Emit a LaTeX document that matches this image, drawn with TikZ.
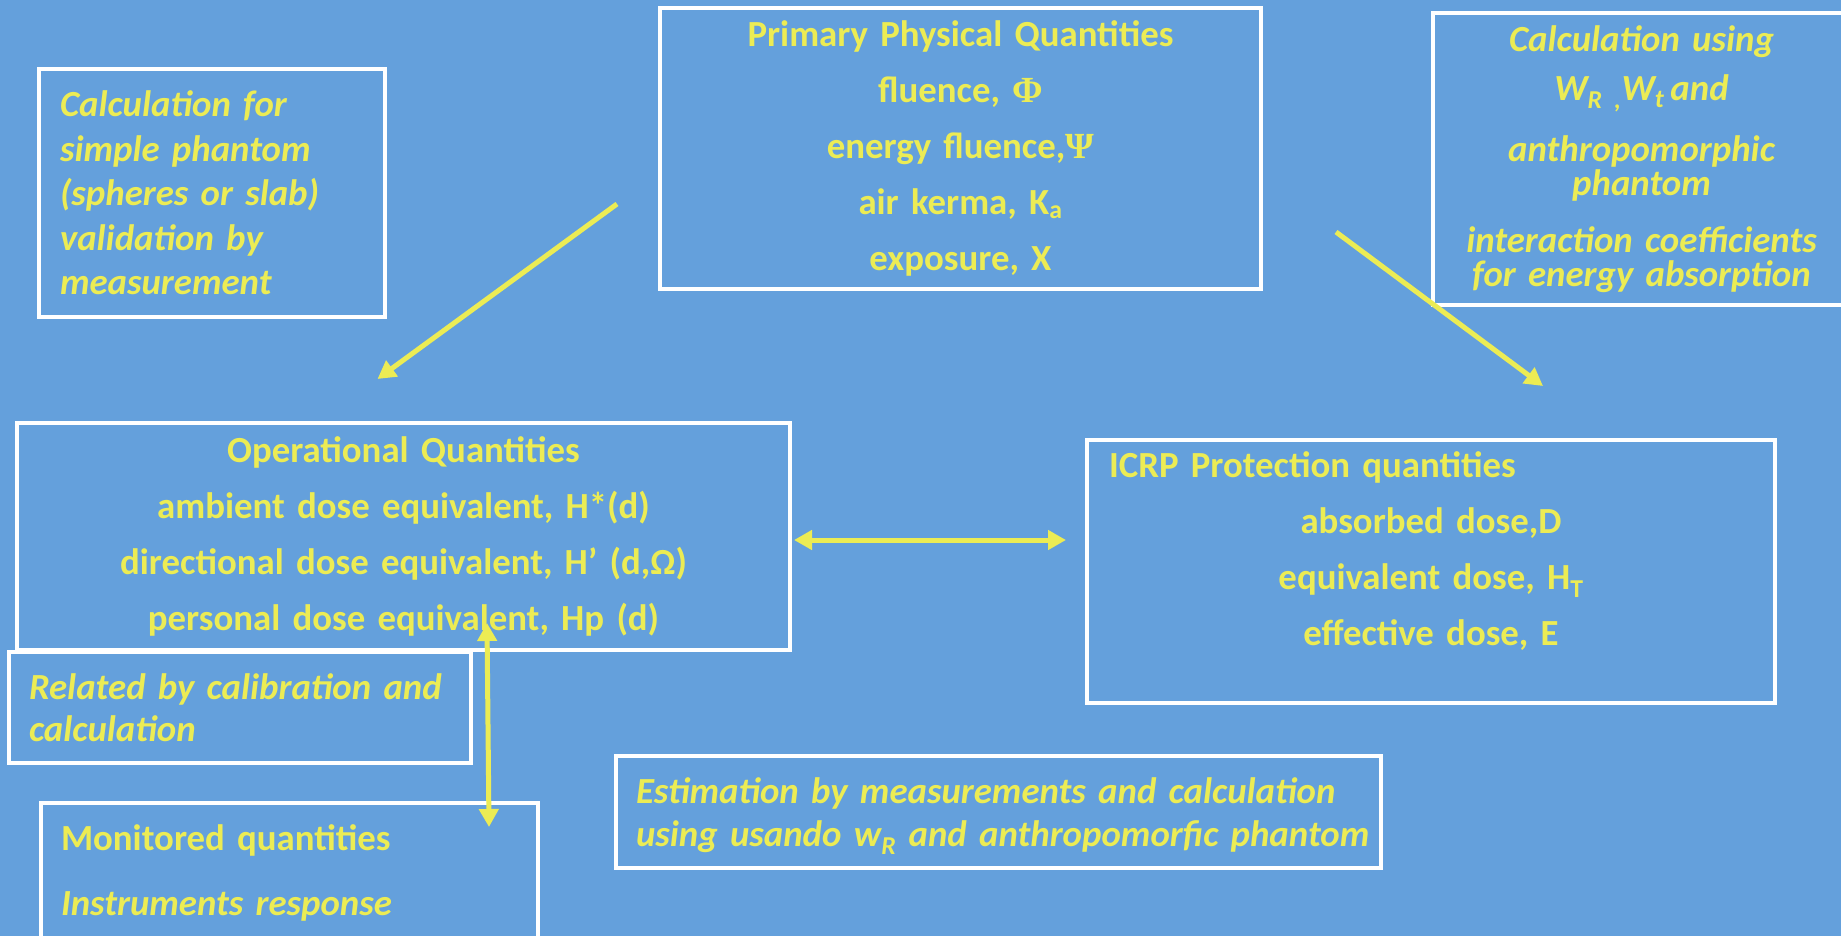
\documentclass[tikz,border=0pt]{standalone}
\usepackage{fontspec}
\setmainfont{Carlito}
\newfontfamily\greekserif{Liberation Serif}
\usetikzlibrary{arrows.meta}
\definecolor{bgblue}{RGB}{100,160,220}
\definecolor{qyellow}{RGB}{236,236,84}
\newcommand{\qfont}[1]{\fontsize{36.8}{#1}\selectfont}

\begin{document}
\begin{tikzpicture}[x=1pt,y=-1pt,
	box/.style={draw=white,line width=3.5pt,text=qyellow,anchor=north west,inner sep=0pt,outer sep=0pt},
	link/.style={qyellow,line width=5pt},
	>={Triangle[length=18pt,width=19pt]}]
		\clip (0,0) rectangle (1841,936);
		\fill[bgblue] (0,0) rectangle (1841,936);
		
		\node[box,minimum width=346pt,minimum height=248pt,text width=304pt,align=left,font=\bfseries\itshape\qfont{44.5}] (simple) at (39,69) {Calculation for\\simple phantom\\(spheres or slab)\\validation by\\measurement};
		\node[box,minimum width=601pt,minimum height=281pt,text width=560pt,align=center,font=\bfseries\qfont{56}] (primary) at (660,8) {Primary Physical Quantities\\fluence, {\greekserif Φ}\\energy fluence,{\greekserif Ψ}\\air kerma, K\textsubscript{a}\\exposure, X};
		\node[box,minimum width=417pt,minimum height=292pt,text width=400pt,align=center,font=\bfseries\itshape\qfont{34}] (using) at (1433,13) {Calculation using\\[15pt]W\textsubscript{R ,}W\textsubscript{t}\,and\\[23pt]anthropomorphic\\phantom\\[23pt]interaction coefficients\\for energy absorption};
		
		\node[box,minimum width=773pt,minimum height=227pt,text width=740pt,align=center,font=\bfseries\qfont{56}] (oper) at (17,423) {Operational Quantities\\ambient dose equivalent, H*(d)\\directional dose equivalent, H’ (d,Ω)\\personal dose equivalent, Hp (d)};
		\node[box,minimum width=688pt,text width=644pt,align=center,inner ysep=11pt,text height=26pt,text depth=215pt,font=\bfseries\qfont{56}] (icrp) at (1087,440) {\makebox[644pt][l]{ICRP Protection quantities}\\absorbed dose,D\\equivalent dose, H\textsubscript{T}\\effective dose, E};
		
		\node[box,minimum width=462pt,minimum height=111pt,text width=422pt,align=left,font=\bfseries\itshape\qfont{42}] (related) at (9,652) {Related by calibration and\\calculation};
		\node[box,minimum width=497pt,text width=457pt,align=left,inner ysep=21pt,text height=26pt,text depth=90pt,font=\bfseries\qfont{65}] (monitor) at (41,803) {Monitored quantities\\\textit{Instruments response}};
		\node[box,minimum width=765pt,text width=725pt,align=left,inner ysep=21pt,text height=26pt,text depth=44pt,font=\bfseries\itshape\qfont{43}] (estim) at (616,756) {\mbox{Estimation by measurements and calculation}\\\mbox{using usando w\textsubscript{R} and anthropomorfic phantom}};
		
		\draw[link,->] ([xshift=-43pt,yshift=85pt]primary.south west) -- ([xshift=-26pt,yshift=44pt]oper.north);
		\draw[link,->] ([xshift=75pt,yshift=57pt]primary.south east) -- ([xshift=112pt,yshift=54pt]icrp.north);
		\draw[link,<->] ([xshift=4pt,yshift=-3.5pt]oper.east) -- ([xshift=-21pt,yshift=31.5pt]icrp.west);
		\draw[link,<->] ([xshift=83.5pt,yshift=27pt]oper.south) -- ([xshift=199.5pt,yshift=-24pt]monitor.north);
\end{tikzpicture}
\end{document}
